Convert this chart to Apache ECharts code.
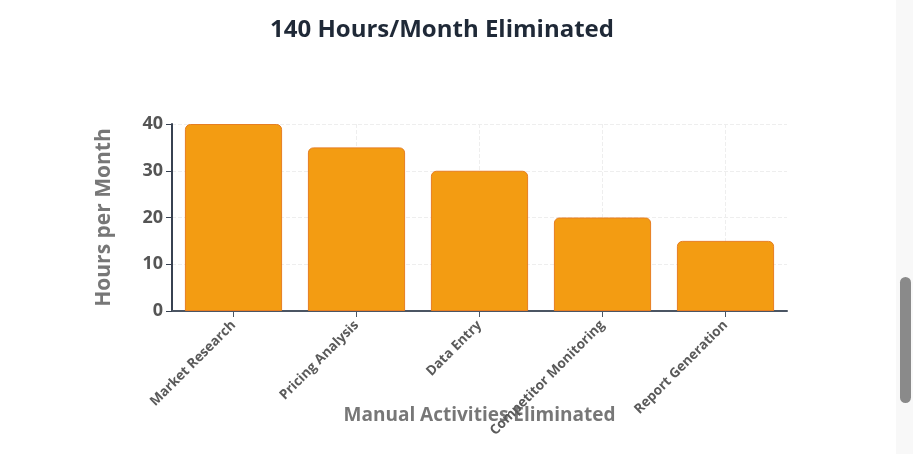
<!DOCTYPE html>
<html><head><meta charset="utf-8">
<script src="https://cdn.jsdelivr.net/npm/echarts@6/dist/echarts.min.js"></script>
<style>html,body{margin:0;padding:0;background:#fff;overflow:hidden}#c{width:913px;height:454px}</style>
</head><body><div id="c"></div>
<script>
const categories = ['Market Research', 'Pricing Analysis', 'Data Entry', 'Competitor Monitoring', 'Report Generation'];
const hoursPerMonth = [40, 35, 30, 20, 15];
const titleText = '140 Hours/Month Eliminated';
const yAxisName = 'Hours per Month';
const xAxisName = 'Manual Activities Eliminated';

const chart = echarts.init(document.getElementById('c'), null, {renderer: 'canvas'});
chart.setOption({
  animation: false,
  backgroundColor: '#fff',
  title: {
    text: titleText, left: 441, top: 13, textAlign: 'center',
    textStyle: {fontFamily: 'Open Sans', fontWeight: 'bold', fontSize: 24, color: '#1f2937'}
  },
  grid: {left: 172, right: 126, top: 124, bottom: 143, containLabel: false, outerBoundsMode: 'none'},
  xAxis: {
    type: 'category', data: categories,
    name: xAxisName, nameLocation: 'middle', nameGap: 95, nameMoveOverlap: false,
    nameTextStyle: {fontFamily: 'Open Sans', fontWeight: 'bold', fontSize: 19, color: '#777'},
    axisLine: {lineStyle: {color: '#4b5563', width: 2}},
    axisTick: {show: true, alignWithLabel: true, length: 6, lineStyle: {color: '#4b5563'}},
    axisLabel: {rotate: 45, interval: 0, margin: 12, fontFamily: 'Open Sans', fontWeight: 'bold', fontSize: 13.5, color: '#5a5a5a'},
    splitLine: {show: true, alignWithLabel: true, lineStyle: {color: '#eeeeee', type: 'dashed'}}
  },
  yAxis: {
    type: 'value', min: 0, max: 40, interval: 10,
    name: yAxisName, nameLocation: 'middle', nameGap: 57, nameRotate: 90, nameMoveOverlap: false,
    nameTextStyle: {fontFamily: 'Open Sans', fontWeight: 'bold', fontSize: 21, color: '#777'},
    axisLine: {show: true, lineStyle: {color: '#374151', width: 2}},
    axisTick: {show: true, length: 6, lineStyle: {color: '#374151'}},
    axisLabel: {margin: 9, fontFamily: 'Open Sans', fontWeight: 'bold', fontSize: 18, color: '#555'},
    splitLine: {show: true, lineStyle: {color: '#eeeeee', type: 'dashed'}}
  },
  series: [{
    type: 'bar', data: hoursPerMonth, barCategoryGap: '21%',
    itemStyle: {color: '#f39c12', borderColor: '#e67e22', borderWidth: 1, borderRadius: [5, 5, 0, 0]}
  }],
  graphic: [
    {type: 'rect', shape: {x: 896, y: 0, width: 17, height: 454}, style: {fill: '#f8f8f8'}, silent: true},
    {type: 'rect', shape: {x: 900, y: 277, width: 11, height: 126, r: 5.5}, style: {fill: '#8a8a8a'}, silent: true}
  ]
});
chart.setOption({title: {left: 437}});
</script></body></html>
